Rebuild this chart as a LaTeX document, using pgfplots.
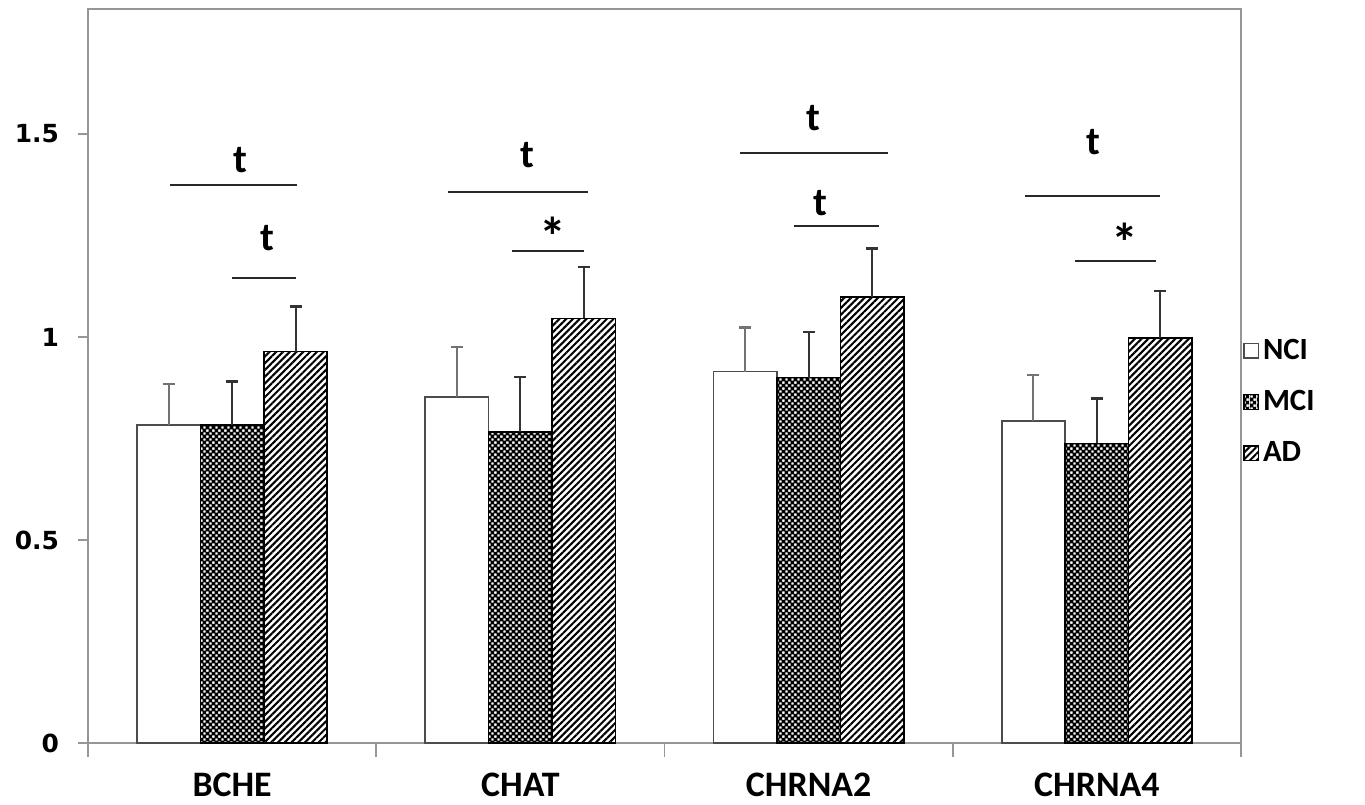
\documentclass[border=0pt]{standalone}
\usepackage{pgfplots}
\pgfplotsset{compat=1.18}
\usepackage{fontspec}
\setmainfont{Carlito}
\newfontfamily\dejab{DejaVu Sans}
\usetikzlibrary{patterns,patterns.meta,calc}
\definecolor{axgray}{RGB}{150,150,150}
\definecolor{sigline}{RGB}{40,40,40}
\pgfdeclarepatternformonly{finechecker}{\pgfpointorigin}{\pgfqpoint{3.2pt}{3.2pt}}{\pgfqpoint{3.2pt}{3.2pt}}{%
  \pgfpathrectangle{\pgfpointorigin}{\pgfqpoint{3.2pt}{3.2pt}}%
  \pgfpathrectangle{\pgfqpoint{0.15pt}{0.15pt}}{\pgfqpoint{1.3pt}{1.3pt}}%
  \pgfpathrectangle{\pgfqpoint{1.75pt}{1.75pt}}{\pgfqpoint{1.3pt}{1.3pt}}%
  \pgfseteorule\pgfusepath{fill}}
\begin{document}
\begin{tikzpicture}
\begin{axis}[
  scale only axis,
  width=576.5bp, height=367bp,
  xmin=-0.5, xmax=3.5,
  ymin=0, ymax=1.808,
  ybar=0pt, bar width=0.22,
  clip=false,
  axis line style={draw=axgray, line width=0.9pt},
  tick pos=left,
  tick align=outside,
  xtick={0,1,2,3},
  xticklabels={BCHE,CHAT,CHRNA2,CHRNA4},
  xtick style={draw=none},
  xticklabel style={font=\fontsize{18}{20}\selectfont\bfseries, yshift=-6.5bp},
  extra x ticks={-0.5,0.5,1.5,2.5,3.5},
  extra x tick labels={},
  extra x tick style={xtick style={draw=axgray, line width=0.8pt}, major tick length=7bp},
  ytick={0,0.5,1,1.5},
  yticklabels={0,0.5,1,1.5},
  ytick style={draw=axgray, line width=0.8pt},
  major tick length=5bp,
  yticklabel style={font=\dejab\fontsize{12.5}{14}\selectfont\bfseries, xshift=-6bp},
  legend style={at={(1.0,0.4646)}, anchor=west, draw=none, fill=none,
    font=\fontsize{15.5}{17}\selectfont\bfseries, row sep=10bp, inner sep=1bp,
    /tikz/every even column/.append style={column sep=1bp}},
  legend cell align=left,
  legend image code/.code={\draw[#1, line width=0.6pt] (0bp,-3.6bp) rectangle (7.2bp,3.6bp);},
  error bars/y dir=plus,
  error bars/y explicit,
]
\addplot[draw=black!70, fill=white, line width=0.8bp,
  error bars/error bar style={line width=1bp, draw=black!55},
  error bars/error mark options={rotate=90, line width=1.2bp, mark size=3bp, draw=black!55}]
  table[x=x, y=y, y error=e] {
x y e
0 0.783 0.101
1 0.853 0.123
2 0.915 0.108
3 0.793 0.113
};
\addplot[draw=black, pattern=finechecker, pattern color=black, line width=0.8bp,
  error bars/error bar style={line width=1bp, draw=black!80},
  error bars/error mark options={rotate=90, line width=1.2bp, mark size=3bp, draw=black!80}]
  table[x=x, y=y, y error=e] {
x y e
0 0.783 0.107
1 0.766 0.136
2 0.900 0.112
3 0.738 0.111
};
\addplot[draw=black, pattern={Lines[angle=45, distance=2.4pt, line width=1.05pt]}, pattern color=black, line width=0.8bp,
  error bars/error bar style={line width=1bp, draw=black!80},
  error bars/error mark options={rotate=90, line width=1.2bp, mark size=3bp, draw=black!80}]
  table[x=x, y=y, y error=e] {
x y e
0 0.964 0.111
1 1.046 0.127
2 1.099 0.119
3 0.997 0.117
};
\legend{NCI,MCI,AD}
% significance brackets
\draw[sigline, line width=0.9pt] (axis cs:-0.2155,1.374) -- (axis cs:0.225,1.374);
\draw[sigline, line width=0.9pt] (axis cs:0.0,1.145) -- (axis cs:0.2216,1.145);
\draw[sigline, line width=0.9pt] (axis cs:0.749,1.358) -- (axis cs:1.235,1.358);
\draw[sigline, line width=0.9pt] (axis cs:0.971,1.212) -- (axis cs:1.221,1.212);
\draw[sigline, line width=0.9pt] (axis cs:1.762,1.454) -- (axis cs:2.275,1.454);
\draw[sigline, line width=0.9pt] (axis cs:1.949,1.273) -- (axis cs:2.244,1.273);
\draw[sigline, line width=0.9pt] (axis cs:2.751,1.347) -- (axis cs:3.219,1.347);
\draw[sigline, line width=0.9pt] (axis cs:2.924,1.188) -- (axis cs:3.205,1.188);
\begin{scope}[every node/.style={font=\fontsize{20}{22}\selectfont\bfseries, inner sep=0pt}]
\node at (axis cs:0.027,1.436) {t};
\node at (axis cs:0.121,1.244) {t};
\node at (axis cs:1.023,1.448) {t};
\node at (axis cs:2.015,1.539) {t};
\node at (axis cs:2.040,1.330) {t};
\node at (axis cs:2.987,1.480) {t};
\end{scope}
\begin{scope}[every node/.style={font=\fontsize{27}{29}\selectfont\bfseries, inner sep=0pt}]
\node at (axis cs:1.113,1.249) {*};
\node at (axis cs:3.098,1.234) {*};
\end{scope}
\end{axis}
\pgfresetboundingbox
\path[use as bounding box] ($(current axis.south west)+(-44bp,-30.5bp)$) rectangle ($(current axis.north east)+(62bp,4.5bp)$);
\end{tikzpicture}
\end{document}
